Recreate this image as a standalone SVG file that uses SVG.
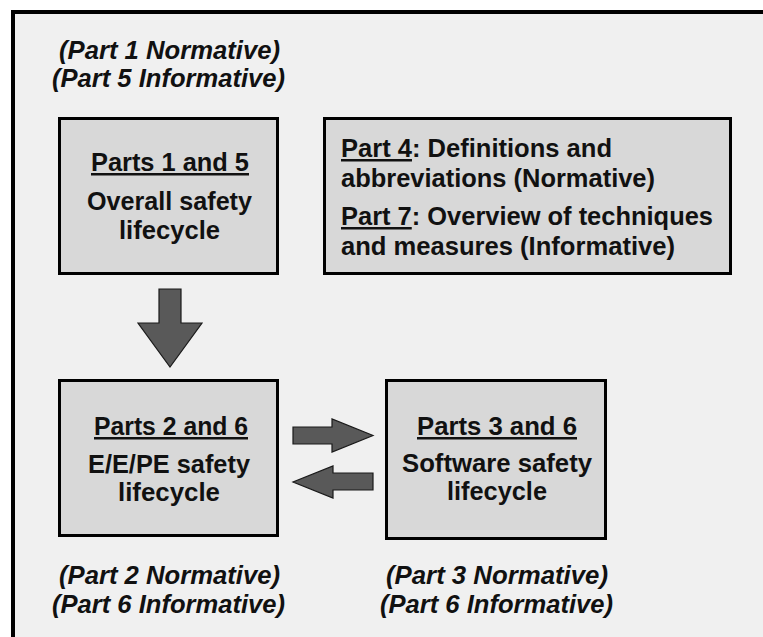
<svg xmlns="http://www.w3.org/2000/svg" width="763" height="637" viewBox="0 0 763 637">
<defs>
<style>
.frame{fill:#f0f0f0;stroke:#000;stroke-width:4}
.box{fill:#d8d8d8;stroke:#000;stroke-width:3}
.arr{fill:#595959;stroke:#1a1a1a;stroke-width:1.2;stroke-linejoin:miter}
text{font-family:"Liberation Sans",Arial,sans-serif;font-weight:bold;font-size:25px;fill:#111}
.c{text-anchor:middle}
.it{font-style:italic}
.u{text-decoration:underline}
</style>
</defs>
<rect width="763" height="637" fill="#fff"/>
<rect class="frame" x="13" y="12" width="800" height="700"/>

<g id="label-part1-5">
<text class="it c" x="169.5" y="59" textLength="221" lengthAdjust="spacingAndGlyphs">(Part 1 Normative)</text>
<text class="it c" x="168.5" y="87" textLength="233" lengthAdjust="spacingAndGlyphs">(Part 5 Informative)</text>
</g>

<g id="node-parts1-5">
<rect class="box" x="59.5" y="118.5" width="218" height="155"/>
<text class="c u" x="170" y="171" textLength="158" lengthAdjust="spacingAndGlyphs">Parts 1 and 5</text>
<text class="c" x="169.5" y="210" textLength="165" lengthAdjust="spacingAndGlyphs">Overall safety</text>
<text class="c" x="169.5" y="239" textLength="101" lengthAdjust="spacingAndGlyphs">lifecycle</text>
</g>

<g id="node-parts4-7">
<rect class="box" x="324.5" y="118.5" width="406" height="155"/>
<text x="341" y="157" textLength="271" lengthAdjust="spacingAndGlyphs"><tspan class="u">Part 4</tspan>: Definitions and</text>
<text x="341" y="187" textLength="314" lengthAdjust="spacingAndGlyphs">abbreviations (Normative)</text>
<text x="341" y="225" textLength="372" lengthAdjust="spacingAndGlyphs"><tspan class="u">Part 7</tspan>: Overview of techniques</text>
<text x="341" y="255" textLength="334" lengthAdjust="spacingAndGlyphs">and measures (Informative)</text>
</g>

<g id="node-parts2-6">
<rect class="box" x="59.5" y="380.5" width="218" height="155"/>
<text class="c u" x="171" y="435" textLength="154" lengthAdjust="spacingAndGlyphs">Parts 2 and 6</text>
<text class="c" x="169" y="473" textLength="162" lengthAdjust="spacingAndGlyphs">E/E/PE safety</text>
<text class="c" x="169" y="501" textLength="102" lengthAdjust="spacingAndGlyphs">lifecycle</text>
</g>

<g id="node-parts3-6">
<rect class="box" x="386.5" y="380.5" width="219" height="158"/>
<text class="c u" x="497" y="435" textLength="160" lengthAdjust="spacingAndGlyphs">Parts 3 and 6</text>
<text class="c" x="497" y="472" textLength="190" lengthAdjust="spacingAndGlyphs">Software safety</text>
<text class="c" x="497" y="500" textLength="100" lengthAdjust="spacingAndGlyphs">lifecycle</text>
</g>

<g id="label-part2-6">
<text class="it c" x="169.5" y="584" textLength="221" lengthAdjust="spacingAndGlyphs">(Part 2 Normative)</text>
<text class="it c" x="168.5" y="613" textLength="233" lengthAdjust="spacingAndGlyphs">(Part 6 Informative)</text>
</g>

<g id="label-part3-6">
<text class="it c" x="497" y="584" textLength="222" lengthAdjust="spacingAndGlyphs">(Part 3 Normative)</text>
<text class="it c" x="496.5" y="613" textLength="233" lengthAdjust="spacingAndGlyphs">(Part 6 Informative)</text>
</g>

<g id="connectors">
<polygon class="arr" points="159,289 181,289 181,323 202,323 170,367 138,323 159,323"/>
<polygon class="arr" points="293,427 332,427 332,419 373,435.5 332,452 332,444 293,444"/>
<polygon class="arr" points="373,473 333,473 333,466 293,482 333,498 333,490 373,490"/>
</g>
</svg>
